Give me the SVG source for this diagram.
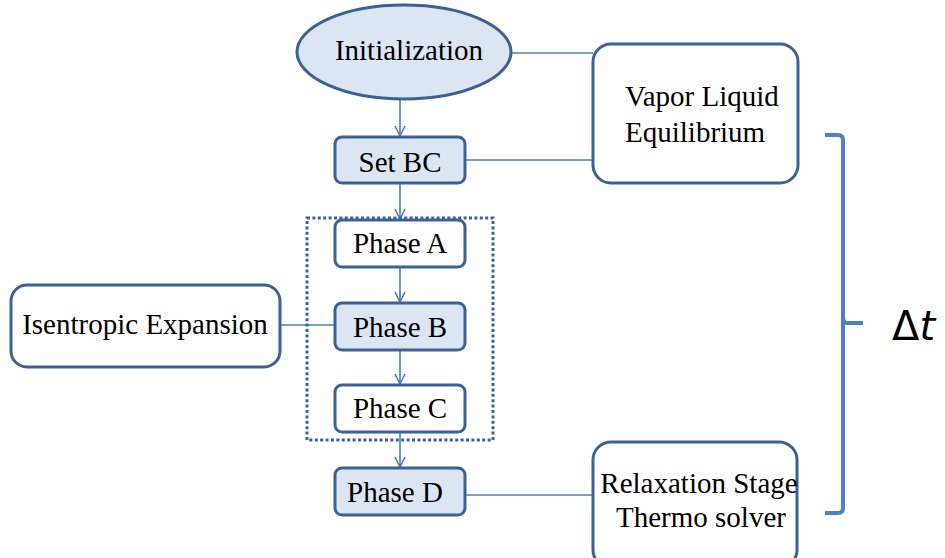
<svg xmlns="http://www.w3.org/2000/svg" width="945" height="558" viewBox="0 0 945 558">
  <style>
    .node { stroke: #3b6196; stroke-width: 3; }
    .filled { fill: #dce6f2; }
    .plain { fill: #ffffff; }
    .label { font-family: "Liberation Serif", Tinos, "Times New Roman", "DejaVu Serif", serif; font-size: 29px; fill: #000; }
    .conn { stroke: #4a7ebb; stroke-width: 1.6; fill: none; }
    .group { stroke: #3b6196; stroke-width: 3; fill: none; stroke-dasharray: 3 2.4; }
    .brace { stroke: #4f81bd; stroke-width: 4; fill: none; }
    .math { font-family: "DejaVu Sans", sans-serif; font-size: 40px; fill: #000; }
  </style>
  <defs>
    <marker id="arrow" viewBox="0 0 12 12" refX="11" refY="6" markerWidth="12" markerHeight="12" markerUnits="userSpaceOnUse" orient="auto">
      <path d="M1,1 L11,6 L1,11" fill="none" stroke="#4a7ebb" stroke-width="1.6"/>
    </marker>
  </defs>
  <rect width="945" height="558" fill="#ffffff"/>

  <!-- connectors -->
  <g id="connectors">
    <line class="conn" x1="400" y1="99" x2="400" y2="136" marker-end="url(#arrow)"/>
    <line class="conn" x1="400" y1="184" x2="400" y2="219" marker-end="url(#arrow)"/>
    <line class="conn" x1="400" y1="268" x2="400" y2="302" marker-end="url(#arrow)"/>
    <line class="conn" x1="400" y1="351" x2="400" y2="384" marker-end="url(#arrow)"/>
    <line class="conn" x1="400" y1="433" x2="400" y2="467" marker-end="url(#arrow)"/>
    <line class="conn" x1="511" y1="53" x2="593" y2="53"/>
    <line class="conn" x1="466" y1="160" x2="593" y2="160"/>
    <line class="conn" x1="281" y1="325" x2="334" y2="325"/>
    <line class="conn" x1="466" y1="495" x2="593" y2="495"/>
  </g>

  <!-- dotted frame round phases A to C -->
  <rect id="phase-group" class="group" x="307" y="218" width="186" height="222"/>

  <g id="initialization">
    <ellipse class="node filled" cx="404" cy="52" rx="107" ry="47"/>
    <text class="label" x="409" y="60" text-anchor="middle">Initialization</text>
  </g>

  <g id="set-bc">
    <rect class="node filled" x="335" y="137" width="130" height="46" rx="7"/>
    <text class="label" x="400" y="172" text-anchor="middle">Set BC</text>
  </g>

  <g id="vapor-liquid">
    <rect class="node plain" x="593" y="44" width="205" height="139" rx="18"/>
    <text class="label" x="625" y="106">Vapor Liquid</text>
    <text class="label" x="625" y="142">Equilibrium</text>
  </g>

  <g id="phase-a">
    <rect class="node plain" x="335" y="220" width="130" height="47" rx="7"/>
    <text class="label" x="400" y="253" text-anchor="middle">Phase A</text>
  </g>

  <g id="phase-b">
    <rect class="node filled" x="335" y="303" width="130" height="47" rx="7"/>
    <text class="label" x="400" y="337" text-anchor="middle">Phase B</text>
  </g>

  <g id="phase-c">
    <rect class="node plain" x="335" y="385" width="130" height="47" rx="7"/>
    <text class="label" x="400" y="418" text-anchor="middle">Phase C</text>
  </g>

  <g id="isentropic">
    <rect class="node plain" x="11" y="285" width="269" height="82" rx="16"/>
    <text class="label" x="145" y="334" text-anchor="middle">Isentropic Expansion</text>
  </g>

  <g id="phase-d">
    <rect class="node filled" x="335" y="468" width="130" height="47" rx="7"/>
    <text class="label" x="395" y="502" text-anchor="middle">Phase D</text>
  </g>

  <g id="relaxation">
    <rect class="node plain" x="593" y="442" width="204" height="126" rx="18"/>
    <text class="label" x="699" y="493" text-anchor="middle">Relaxation Stage</text>
    <text class="label" x="701" y="527" text-anchor="middle">Thermo solver</text>
  </g>

  <!-- time step brace -->
  <g id="time-step">
    <path class="brace" d="M825,135 L838,135 Q843,135 843,140 L843,318 Q843,323 848,323 L863,323 M843,318 L843,508 Q843,513 838,513 L825,513"/>
    <text class="math" x="892" y="340">Δ<tspan font-style="italic">t</tspan></text>
  </g>
</svg>
